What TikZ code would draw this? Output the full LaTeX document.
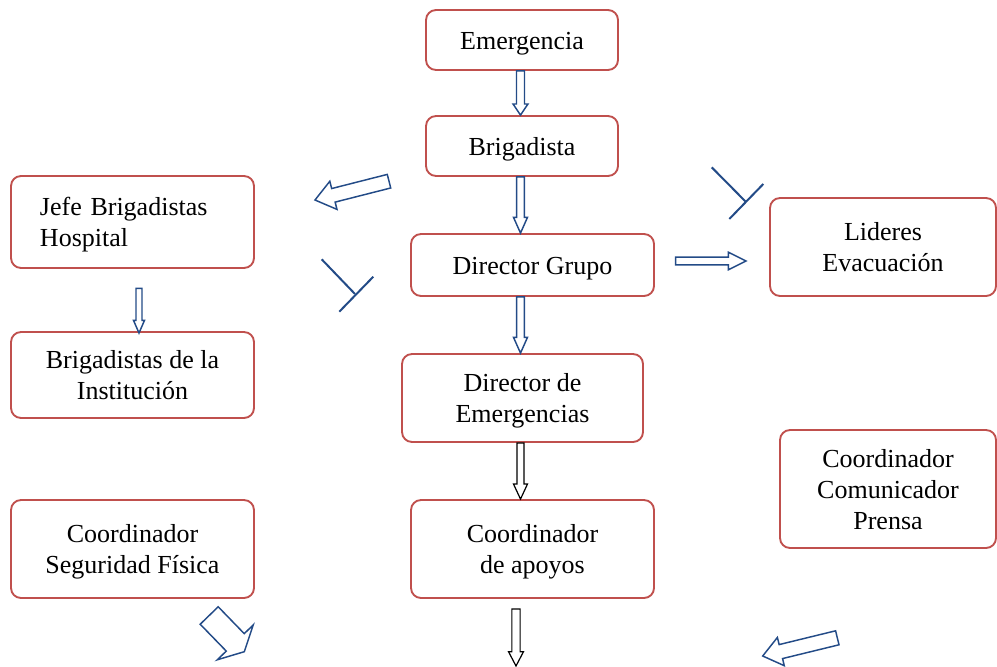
\documentclass[tikz,border=0pt]{standalone}
\usepackage{fontspec}
\setmainfont{Liberation Serif}
\usetikzlibrary{calc}
\definecolor{boxred}{RGB}{192,80,77}
\definecolor{arrblue}{RGB}{35,75,135}
\newcommand\barrow[6][]{%
  \coordinate (tmpc) at ($(#3)!#6!(#2)$);
  \draw[#1] ($(#2)!#4!90:(#3)$) -- ($(tmpc)!#4!90:(#3)$) -- ($(tmpc)!#5!90:(#3)$)
    -- (#3) -- ($(tmpc)!#5!-90:(#3)$) -- ($(tmpc)!#4!-90:(#3)$) -- ($(#2)!#4!-90:(#3)$) -- cycle;
}
\newcommand\ctxt[1]{\raisebox{-2.4pt}[\height][\depth]{\begin{tabular}{@{}c@{}}#1\end{tabular}}}
\newcommand\ltxt[1]{\raisebox{-2.4pt}[\height][\depth]{\begin{tabular}{@{}l@{}}#1\end{tabular}}}
\begin{document}
\begin{tikzpicture}[x=0.75pt,y=-0.75pt,
  box/.style={draw=boxred,line width=1.4pt,rounded corners=7.5pt,fill=white,
    inner sep=0pt,font=\fontsize{19.5}{23.3}\selectfont},
  barr/.style={draw=arrblue,line width=1.1pt,line join=miter,fill=white},
  karr/.style={draw=black,line width=0.9pt,line join=miter,fill=white},
  tbar/.style={draw=arrblue,line width=1.5pt}]
\useasboundingbox (0,0) rectangle (997,667);
% boxes
\node[box,minimum width=192*0.75pt,minimum height=60*0.75pt] (emerg) at (522,40) {\ctxt{Emergencia}};
\node[box,minimum width=192*0.75pt,minimum height=60*0.75pt] (brig) at (522,146) {\ctxt{Brigadista}};
\node[box,minimum width=243*0.75pt,minimum height=62*0.75pt] (dg) at (532.5,265) {\ctxt{Director Grupo}};
\node[box,minimum width=241*0.75pt,minimum height=88*0.75pt] (de) at (522.5,398) {\ctxt{Director de\\Emergencias}};
\node[box,minimum width=243*0.75pt,minimum height=98*0.75pt] (ca) at (532.5,549) {\ctxt{Coordinador\\de apoyos}};
\node[box,minimum width=243*0.75pt,minimum height=92*0.75pt,text width=185*0.75pt] (jefe) at (132.5,222) {\ltxt{Jefe Brigadistas\\Hospital}};
\node[box,minimum width=243*0.75pt,minimum height=86*0.75pt] (bi) at (132.5,375) {\ctxt{Brigadistas de la\\Institución}};
\node[box,minimum width=243*0.75pt,minimum height=98*0.75pt] (csf) at (132.5,549) {\ctxt{Coordinador\\Seguridad Física}};
\node[box,minimum width=226*0.75pt,minimum height=98*0.75pt] (lid) at (883,247) {\ctxt{Lideres\\Evacuación}};
\node[box,minimum width=216*0.75pt,minimum height=118*0.75pt] (ccp) at (888,489) {\ctxt{Coordinador\\Comunicador\\Prensa}};
% connector end points
\coordinate (ax) at (520.5,0);
\coordinate (a1) at (ax |- emerg.south);
\coordinate (b1) at (ax |- brig.north);
\coordinate (a2) at (ax |- brig.south);
\coordinate (b2) at (ax |- dg.north);
\coordinate (a3) at (ax |- dg.south);
\coordinate (b3) at (ax |- de.north);
\coordinate (a4) at (ax |- de.south);
\coordinate (b4) at (ax |- ca.north);
\coordinate (a5) at (516,609);
\coordinate (b5) at (516,666);
\coordinate (a6) at (139,288.3);
\coordinate (b6) at (139,333);
\coordinate (a7) at (675.7,261);
\coordinate (b7) at (746,261);
\coordinate (a8) at (389,181.2);
\coordinate (b8) at (315,200);
\coordinate (a9) at (837.3,637.8);
\coordinate (b9) at (762.7,656);
\coordinate (a10) at (209.2,615.5);
\coordinate (b10) at (244.3,651.7);
% block arrows
\barrow[barr]{a1}{b1}{3pt}{5.6pt}{8.3pt}
\barrow[barr]{a2}{b2}{2.85pt}{5.25pt}{11.8pt}
\barrow[barr]{a3}{b3}{2.85pt}{5.25pt}{11.8pt}
\barrow[karr]{a4}{b4}{2.6pt}{5.25pt}{11.25pt}
\barrow[karr]{a5}{b5}{3.1pt}{5.6pt}{10.7pt}
\barrow[barr]{a6}{b6}{2.25pt}{4.1pt}{9.4pt}
\barrow[barr]{a7}{b7}{2.9pt}{6.6pt}{13.3pt}
\barrow[barr]{a8}{b8}{5.25pt}{10.9pt}{14.25pt}
\barrow[barr]{a9}{b9}{5.4pt}{10.9pt}{14pt}
\barrow[barr]{a10}{b10}{9.4pt}{18.75pt}{9.75pt}
% T-shaped marks
\coordinate (t1a) at (321.7,259.3);
\coordinate (t1b) at (355,294);
\coordinate (t1c) at (373.3,276.7);
\coordinate (t1d) at (339.3,311.7);
\draw[tbar] (t1a) -- (t1b);
\draw[tbar] (t1c) -- (t1d);
\coordinate (t2a) at (711.7,167.3);
\coordinate (t2b) at (745.7,201.7);
\coordinate (t2c) at (763.3,184);
\coordinate (t2d) at (729.3,219);
\draw[tbar] (t2a) -- (t2b);
\draw[tbar] (t2c) -- (t2d);
\end{tikzpicture}
\end{document}
